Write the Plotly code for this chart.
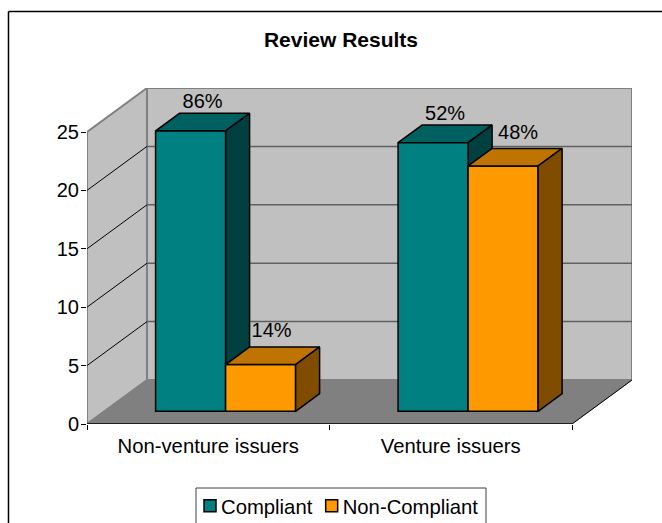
import plotly.graph_objects as go

# ---- data ----
categories = ["Non-venture issuers", "Venture issuers"]
compliant = [24, 23]
non_compliant = [4, 21]
compliant_labels = ["86%", "52%"]
non_compliant_labels = ["14%", "48%"]
y_ticks = [0, 5, 10, 15, 20, 25]

# ---- page layout (pixels) ----
W, H = 662, 523
PL, PR, PT, PB = 87, 632, 88, 424
CAT_PX = 242.5
VAL_PX = (PB - 132) / 25

# ---- oblique depth, in axis units ----
DX = (PR - PL) / CAT_PX - 2
DY = (PB - PT) / VAL_PX - 25
NEAR, FAR = 0.289, 0.689
BAR_W = 0.2887
BAR_LEFT = 0.5 - BAR_W

TEAL, TEAL_TOP, TEAL_SIDE = "#008080", "#006060", "#004040"
ORNG, ORNG_TOP, ORNG_SIDE = "#FF9900", "#BF7300", "#804D00"
WALL, FLOOR = "#C0C0C0", "#808080"
FONT = "Liberation Sans, Arial, sans-serif"
SIZE = 20


def poly(xs, ys, fill, line, width=1.5, z=-3):
    return go.Scatter(
        x=xs, y=ys, mode="lines", fill="toself", fillcolor=fill,
        line=dict(color=line, width=width), showlegend=False,
        hoverinfo="skip", zorder=z, cliponaxis=False,
    )


def seg(xs, ys, color, width, z=-3):
    return go.Scatter(
        x=xs, y=ys, mode="lines", line=dict(color=color, width=width),
        showlegend=False, hoverinfo="skip", zorder=z, cliponaxis=False,
    )


fig = go.Figure()

# walls and floor
top = y_ticks[-1]
fig.add_trace(poly([DX, 2 + DX, 2 + DX, DX, DX], [DY, DY, top + DY, top + DY, DY], WALL, FLOOR, 2, -5))
fig.add_trace(poly([0, DX, DX, 0, 0], [0, DY, top + DY, top, 0], WALL, FLOOR, 2, -5))
fig.add_trace(poly([0, 2, 2 + DX, DX, 0], [0, 0, DY, DY, 0], FLOOR, FLOOR, 1, -4))
for v in y_ticks[1:-1]:
    fig.add_trace(seg([DX, 2 + DX], [v + DY, v + DY], "#606060", 1.5, -4))
for v in y_ticks[1:-1]:
    fig.add_trace(seg([0, DX], [v, v + DY], "#000000", 1, -4))
fig.add_trace(seg([0, 2], [0, 0], "#000000", 1.5, -3))
fig.add_trace(seg([2, 2 + DX], [0, DY], "#000000", 1, -3))

base = NEAR * DY
bdx, bdy = (FAR - NEAR) * DX, (FAR - NEAR) * DY
shift = NEAR * DX


def box(i, slot, value, top_col, side_col, z):
    xl = i + BAR_LEFT + shift + slot * BAR_W
    xr = xl + BAR_W
    t = base + value
    fig.add_trace(poly([xl, xr, xr + bdx, xl + bdx, xl], [t, t, t + bdy, t + bdy, t], top_col, "#000000", 1.5, z))
    fig.add_trace(poly([xr, xr, xr + bdx, xr + bdx, xr], [base, t, t + bdy, base + bdy, base], side_col, "#000000", 1.5, z))


for i in range(len(categories)):
    box(i, 0, compliant[i], TEAL_TOP, TEAL_SIDE, -2)

# front faces
for slot, (name, vals, col) in enumerate([("Compliant", compliant, TEAL), ("Non-Compliant", non_compliant, ORNG)]):
    fig.add_trace(go.Bar(
        x=[i + BAR_LEFT + shift + slot * BAR_W for i in range(len(categories))],
        y=vals, base=base, width=BAR_W, offset=0, name=name,
        marker=dict(color=col, line=dict(color="#000000", width=1.5)),
        hoverinfo="skip", zorder=-1,
    ))

for i in range(len(categories)):
    box(i, 1, non_compliant[i], ORNG_TOP, ORNG_SIDE, 1)

# data labels: nudges in pixels
label_dx = [[0, 0], [-1, 3]]
label_dy = [[10, 10], [15, 14.5]]
lx, ly, lt = [], [], []
for slot, (vals, labs) in enumerate([(compliant, compliant_labels), (non_compliant, non_compliant_labels)]):
    for i in range(len(categories)):
        lx.append(i + BAR_LEFT + shift + slot * BAR_W + BAR_W / 2 + bdx / 2 + label_dx[slot][i] / CAT_PX)
        ly.append(base + vals[i] + bdy + label_dy[slot][i] / VAL_PX)
        lt.append(labs[i])
fig.add_trace(go.Scatter(
    x=lx, y=ly, text=lt, mode="text", textposition="middle center",
    textfont=dict(family=FONT, size=SIZE, color="#000000"),
    showlegend=False, hoverinfo="skip", zorder=2, cliponaxis=False,
))

fig.update_layout(
    width=W, height=H, autosize=False,
    margin=dict(l=PL, r=W - PR, t=PT, b=H - PB, autoexpand=False),
    paper_bgcolor="#FFFFFF", plot_bgcolor="rgba(0,0,0,0)",
    barmode="overlay",
    font=dict(family=FONT, size=SIZE, color="#000000"),
    title=dict(
        text="<b>Review Results</b>", x=341 / W, xanchor="center", xref="container",
        y=1 - 40 / H, yref="container", yanchor="middle",
        font=dict(family=FONT, size=21, color="#000000"),
    ),
    xaxis=dict(
        range=[0, 2 + DX], tickmode="array", tickvals=[0.5, 1.5], ticktext=categories,
        ticks="", ticklen=0, showgrid=False, zeroline=False, showline=False,
        ticklabelstandoff=8,
        tickfont=dict(family=FONT, size=20.3),
        minor=dict(tickmode="array", tickvals=[0, 1, 2], ticks="outside", ticklen=5, tickcolor="#000000", tickwidth=1, showgrid=False),
    ),
    yaxis=dict(
        range=[0, top + DY], tickmode="array", tickvals=y_ticks, ticks="outside", ticklen=5,
        tickcolor="#000000", tickwidth=1, showgrid=False, zeroline=False, showline=False,
        ticklabelstandoff=-2,
        tickfont=dict(family=FONT, size=SIZE),
    ),
    legend=dict(
        orientation="h", x=(190 - PL) / (PR - PL), xanchor="left",
        y=(PB - 486) / (PB - PT), yanchor="top",
        bgcolor="rgba(0,0,0,0)", font=dict(family=FONT, size=20.3, color="#000000"),
        itemclick=False, itemdoubleclick=False, traceorder="normal",
    ),
    shapes=[
        dict(type="line", xref="paper", yref="paper",
             x0=(8.5 - PL) / (PR - PL), x1=(W - PL) / (PR - PL),
             y0=(PB - 11.5) / (PB - PT), y1=(PB - 11.5) / (PB - PT),
             line=dict(color="#000000", width=1.5)),
        dict(type="line", xref="paper", yref="paper",
             x0=(8.5 - PL) / (PR - PL), x1=(8.5 - PL) / (PR - PL),
             y0=(PB - 11.5) / (PB - PT), y1=(PB - H) / (PB - PT),
             line=dict(color="#000000", width=1.5)),
        dict(type="rect", xref="paper", yref="paper",
             x0=(196 - PL) / (PR - PL), x1=(486 - PL) / (PR - PL),
             y0=(PB - 488) / (PB - PT), y1=(PB - H - 4) / (PB - PT),
             line=dict(color="#404040", width=1)),
    ],
)

# Tighten the legend's fixed swatch/text spacing once it is drawn.
post = """
document.body.style.margin='0';
document.documentElement.style.overflow='hidden';
document.querySelectorAll('.legend .legendtext').forEach(function(t){
  t.setAttribute('x', parseFloat(t.getAttribute('x')) - 9);
});
var tr = document.querySelectorAll('.legend .traces');
if (tr.length > 1) {
  var m = /translate\\(([-\\d.]+)[ ,]+([-\\d.]+)\\)/.exec(tr[1].getAttribute('transform'));
  if (m) tr[1].setAttribute('transform', 'translate(' + (parseFloat(m[1]) - 15) + ',' + m[2] + ')');
}
"""
fig.write_html("out.html", config=dict(displayModeBar=False), post_script=post)
